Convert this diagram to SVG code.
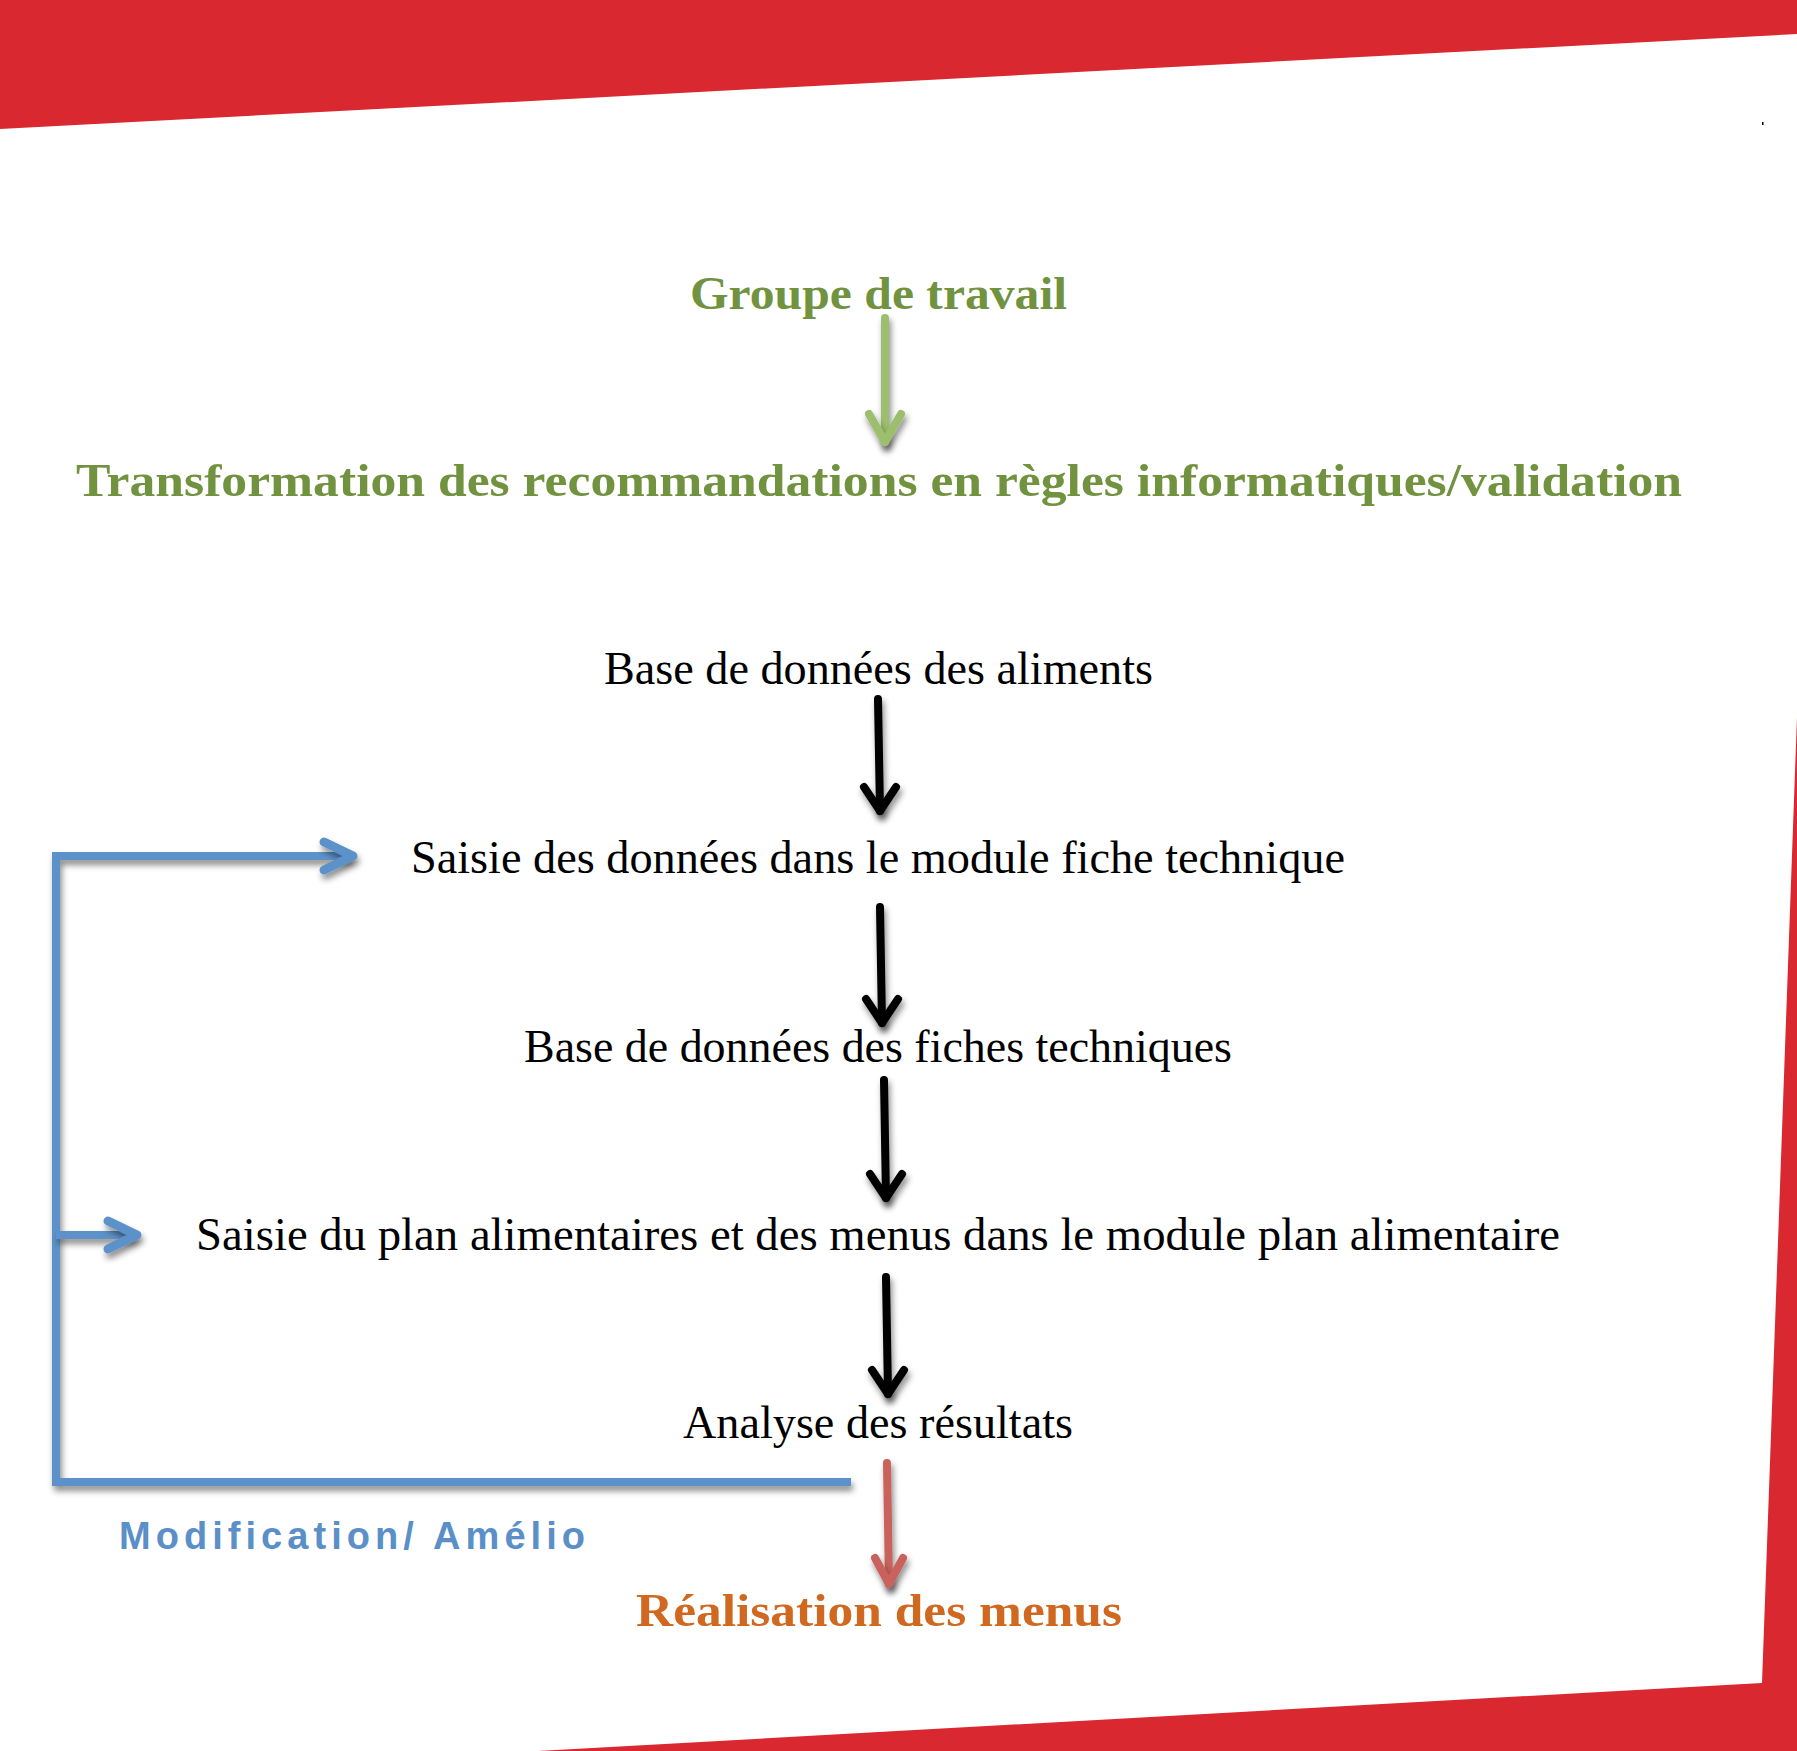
<svg xmlns="http://www.w3.org/2000/svg" width="1797" height="1751" viewBox="0 0 1797 1751">
<defs>
<filter id="sh" filterUnits="userSpaceOnUse" x="0" y="0" width="1797" height="1751">
<feDropShadow dx="2" dy="5" stdDeviation="3" flood-color="#000" flood-opacity="0.45"/>
</filter>
<style>
.serif{font-family:"Liberation Serif","Times New Roman",serif;font-size:46px;}
.green{fill:#71923f;font-weight:bold;}
.black{fill:#000;}
.orange{fill:#d0691f;font-weight:bold;}
.blue{font-family:"Liberation Sans",Arial,sans-serif;font-weight:bold;font-size:38px;fill:#5a8fc8;}
.ln{fill:none;stroke-width:8;stroke-linecap:round;stroke-linejoin:round;filter:url(#sh);}
.k{stroke:#000;}
.g{stroke:#9bbf6c;}
.r{stroke:#c9625d;}
.b{stroke:#5b92c9;stroke-linecap:butt;stroke-linejoin:miter;}
.bh{stroke:#5b92c9;stroke-width:9;}
</style>
</defs>
<rect width="1797" height="1751" fill="#fff"/>
<g id="frame">
<polygon points="0,0 1797,0 1797,34 0,129" fill="#d9282f"/>
<polygon points="1797,717 1797,1751 538,1751 1762,1683" fill="#d9282f"/>
<rect x="1762" y="122" width="1.5" height="3" fill="#000"/>
</g>
<g id="connectors">
<g id="c-groupe-transfo"><path class="ln g" d="M885 318 L885 442"/><path class="ln g" d="M869 414 L885 442 L901 414"/></g>
<g id="c1"><path class="ln k" d="M878 699 L880 811"/><path class="ln k" d="M864 787 L880 811 L896 787"/></g>
<g id="c2"><path class="ln k" d="M880 907 L882 1023"/><path class="ln k" d="M866 999 L882 1023 L898 999"/></g>
<g id="c3"><path class="ln k" d="M884 1080 L886 1198"/><path class="ln k" d="M870 1174 L886 1198 L902 1174"/></g>
<g id="c4"><path class="ln k" d="M886 1277 L888 1394"/><path class="ln k" d="M872 1370 L888 1394 L904 1370"/></g>
<g id="c-red"><path class="ln r" d="M887 1463 L889 1584"/><path class="ln r" d="M875 1558 L889 1584 L903 1558"/></g>
<g id="c-feedback">
<path class="ln b" d="M851 1482 L56 1482 L56 856 L350 856"/>
<path class="ln bh" d="M324 842 L353 856 L324 870"/>
<path class="ln b" d="M56 1235 L134 1235"/>
<path class="ln bh" d="M108 1221 L137 1235 L108 1249"/>
</g>
</g>
<g id="n-groupe"><text class="serif green" x="690" y="309" textLength="377" lengthAdjust="spacingAndGlyphs">Groupe de travail</text></g>
<g id="n-transfo"><text class="serif green" x="76" y="496" textLength="1606" lengthAdjust="spacingAndGlyphs">Transformation des recommandations en règles informatiques/validation</text></g>
<g id="n-base-aliments"><text class="serif black" x="604" y="684" textLength="549" lengthAdjust="spacingAndGlyphs">Base de données des aliments</text></g>
<g id="n-saisie-fiche"><text class="serif black" x="411" y="873" textLength="934" lengthAdjust="spacingAndGlyphs">Saisie des données dans le module fiche technique</text></g>
<g id="n-base-fiches"><text class="serif black" x="524" y="1062" textLength="708" lengthAdjust="spacingAndGlyphs">Base de données des fiches techniques</text></g>
<g id="n-saisie-plan"><text class="serif black" x="196" y="1250" textLength="1364" lengthAdjust="spacingAndGlyphs">Saisie du plan alimentaires et des menus dans le module plan alimentaire</text></g>
<g id="n-analyse"><text class="serif black" x="683" y="1438" textLength="390" lengthAdjust="spacingAndGlyphs">Analyse des résultats</text></g>
<g id="n-modif"><text class="blue" x="119" y="1549" textLength="466" lengthAdjust="spacing">Modification/ Amélio</text></g>
<g id="n-realisation"><text class="serif orange" x="636" y="1626" textLength="486" lengthAdjust="spacingAndGlyphs">Réalisation des menus</text></g>
</svg>
